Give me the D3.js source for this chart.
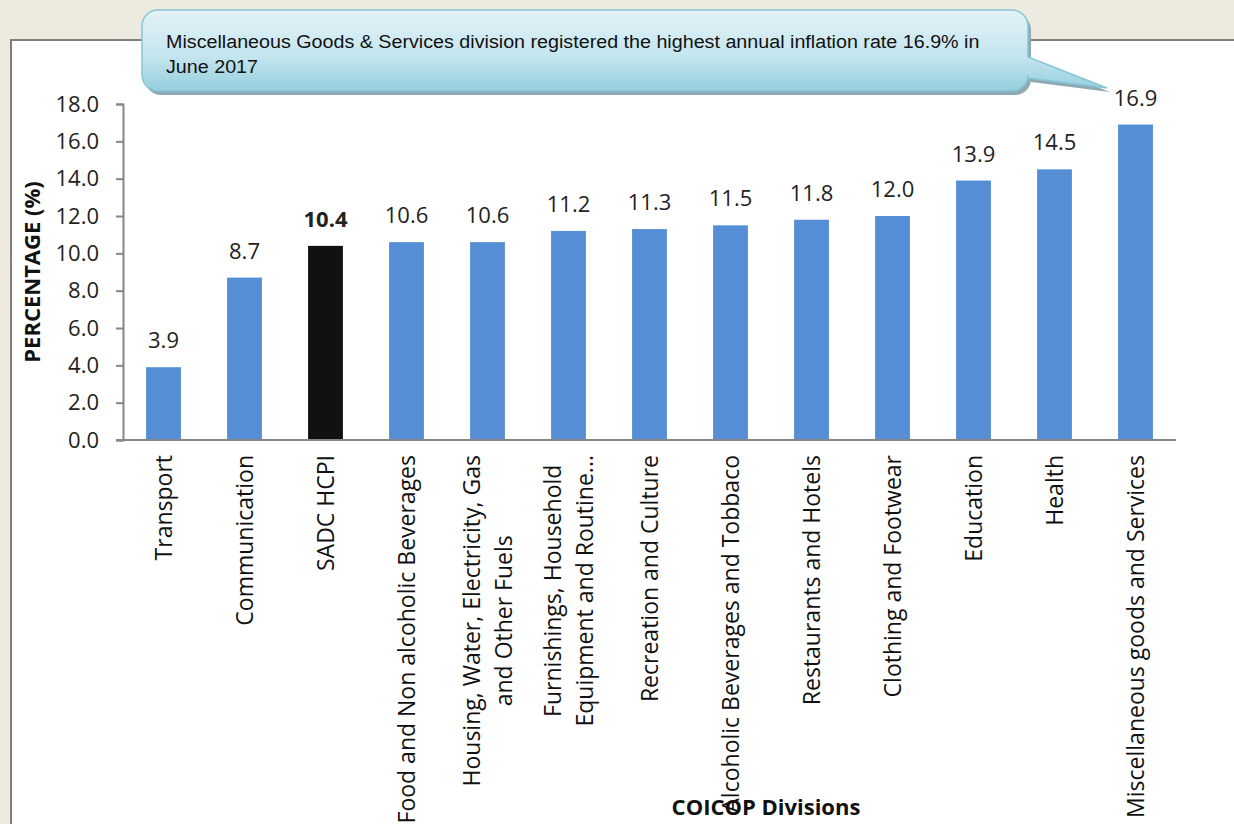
<!DOCTYPE html>
<html>
<head>
<meta charset="utf-8">
<script src="https://cdn.jsdelivr.net/npm/d3@7"></script>
<style>
  html, body { margin: 0; padding: 0; background: #EDEAE0; overflow: hidden; }
  svg { display: block; }
</style>
</head>
<body>
<svg id="chart"></svg>
<script>
var width = 1234;
var height = 824;

// data
var categories = [
    "Transport",
    "Communication",
    "SADC HCPI",
    "Food and Non alcoholic Beverages",
    "Housing, Water, Electricity, Gas|and Other Fuels",
    "Furnishings, Household|Equipment and Routine...",
    "Recreation and Culture",
    "Alcoholic Beverages and Tobbaco",
    "Restaurants and Hotels",
    "Clothing and Footwear",
    "Education",
    "Health",
    "Miscellaneous goods and Services"
];
var values = [3.9, 8.7, 10.4, 10.6, 10.6, 11.2, 11.3, 11.5, 11.8, 12.0, 13.9, 14.5, 16.9];
var highlight = "SADC HCPI";
var yTicks = [0, 2, 4, 6, 8, 10, 12, 14, 16, 18];
var calloutLines = [
    "Miscellaneous Goods & Services division registered the highest annual inflation rate 16.9% in",
    "June 2017"
];

var plot = {left: 123, right: 1176, top: 104, bottom: 440};
var font = "'Open Sans', Lato, sans-serif";

var svg = d3.select("#chart")
    .attr("width", width)
    .attr("height", height)
    .attr("xmlns", "http://www.w3.org/2000/svg");

// page frame
svg.append("rect")
    .attr("x", 11).attr("y", 40)
    .attr("width", 1240).attr("height", 800)
    .attr("fill", "white")
    .attr("stroke", "#7F7F7F")
    .attr("stroke-width", 2);

var x = d3.scaleBand()
    .domain(categories)
    .range([plot.left, plot.right])
    .paddingInner(0.57)
    .paddingOuter(0.285);

var y = d3.scaleLinear()
    .domain([0, 18])
    .range([plot.bottom, plot.top]);

// y axis
var yAxis = svg.append("g")
    .attr("transform", "translate(" + plot.left + ",0)")
    .call(d3.axisLeft(y).tickValues(yTicks).tickSize(7).tickPadding(17).tickFormat(d3.format(".1f")));
yAxis.select(".domain").attr("stroke", "#868686").attr("stroke-width", 2);
yAxis.selectAll(".tick line").attr("stroke", "#868686").attr("stroke-width", 2);
yAxis.selectAll(".tick text")
    .attr("font-family", font)
    .attr("font-size", 22)
    .attr("fill", "#222");

// bars
svg.selectAll(".bar")
    .data(values)
    .enter()
    .append("rect")
    .attr("class", "bar")
    .attr("x", function (d, i) { return x(categories[i]); })
    .attr("y", function (d) { return y(d); })
    .attr("width", x.bandwidth())
    .attr("height", function (d) { return y(0) - y(d); })
    .attr("fill", function (d, i) { return categories[i] === highlight ? "#111111" : "#558ED5"; });

// x axis line
svg.append("line")
    .attr("x1", plot.left - 7).attr("x2", plot.right)
    .attr("y1", y(0)).attr("y2", y(0))
    .attr("stroke", "#868686")
    .attr("stroke-width", 2);

// value labels
svg.selectAll(".valueText")
    .data(values)
    .enter()
    .append("text")
    .attr("x", function (d, i) { return x(categories[i]) + x.bandwidth() / 2; })
    .attr("y", function (d) { return y(d) - 19; })
    .attr("text-anchor", "middle")
    .attr("font-family", font)
    .attr("font-size", 22)
    .attr("font-weight", function (d, i) { return categories[i] === highlight ? "bold" : "normal"; })
    .attr("fill", "#222")
    .text(function (d) { return d.toFixed(1); });

// category labels, rotated
var labelTop = 455;
var lineGap = 32;
categories.forEach(function (c) {
    var lines = c.split("|");
    var cx = x(c) + x.bandwidth() / 2;
    var g = svg.append("g")
        .attr("transform", "translate(" + cx + "," + labelTop + ") rotate(-90)");
    var texts = lines.map(function (line, i) {
        return g.append("text")
            .attr("y", (i - (lines.length - 1) / 2) * lineGap)
            .attr("dy", "0.35em")
            .attr("font-family", font)
            .attr("font-size", 23)
            .attr("fill", "#111")
            .text(line);
    });
    if (lines.length === 1) {
        texts[0].attr("text-anchor", "end").attr("x", 0);
    } else {
        var maxLen = d3.max(texts, function (t) { return t.node().getComputedTextLength(); });
        texts.forEach(function (t) {
            t.attr("text-anchor", "middle").attr("x", -maxLen / 2);
        });
    }
});

// axis titles
svg.append("text")
    .attr("transform", "translate(40,272) rotate(-90)")
    .attr("text-anchor", "middle")
    .attr("font-family", font)
    .attr("font-size", 22)
    .attr("font-weight", "bold")
    .attr("fill", "#111")
    .text("PERCENTAGE (%)");

svg.append("text")
    .attr("x", 766)
    .attr("y", 815)
    .attr("text-anchor", "middle")
    .attr("font-family", font)
    .attr("font-size", 22)
    .attr("font-weight", "bold")
    .attr("fill", "#111")
    .text("COICOP Divisions");

// callout box
var defs = svg.append("defs");
var grad = defs.append("linearGradient")
    .attr("id", "calloutFill")
    .attr("gradientUnits", "userSpaceOnUse")
    .attr("x1", 0).attr("y1", 10).attr("x2", 0).attr("y2", 92);
grad.append("stop").attr("offset", 0).attr("stop-color", "#E3F2F7");
grad.append("stop").attr("offset", 0.55).attr("stop-color", "#C6E6EF");
grad.append("stop").attr("offset", 1).attr("stop-color", "#93CDDC");

var bx0 = 142, bx1 = 1028, by0 = 10, by1 = 91, r = 16;
var tip = [1107, 88];
var calloutPath = d3.path();
calloutPath.moveTo(bx0 + r, by0);
calloutPath.lineTo(bx1 - r, by0);
calloutPath.arcTo(bx1, by0, bx1, by0 + r, r);
calloutPath.lineTo(bx1, 57);
calloutPath.lineTo(tip[0], tip[1]);
calloutPath.lineTo(bx1, 78);
calloutPath.lineTo(bx1, by1 - r);
calloutPath.arcTo(bx1, by1, bx1 - r, by1, r);
calloutPath.lineTo(bx0 + r, by1);
calloutPath.arcTo(bx0, by1, bx0, by1 - r, r);
calloutPath.lineTo(bx0, by0 + r);
calloutPath.arcTo(bx0, by0, bx0 + r, by0, r);
calloutPath.closePath();

svg.append("path")
    .attr("d", calloutPath.toString())
    .attr("transform", "translate(3,4)")
    .attr("fill", "#8FA8B2");
svg.append("path")
    .attr("d", calloutPath.toString())
    .attr("fill", "url(#calloutFill)")
    .attr("stroke", "#86C6D8")
    .attr("stroke-width", 1.5);

var calloutText = svg.append("g");
var ct = calloutText.selectAll("text")
    .data(calloutLines)
    .enter()
    .append("text")
    .attr("x", 0)
    .attr("y", function (d, i) { return i * 25; })
    .attr("font-family", "'Liberation Sans', Arial, sans-serif")
    .attr("font-size", 19)
    .attr("fill", "#111")
    .text(function (d) { return d; });
var natural = ct.nodes()[0].getComputedTextLength();
var sx = 814 / natural;
calloutText.attr("transform", "translate(166,48) scale(" + sx + ",1)");
</script>
</body>
</html>
